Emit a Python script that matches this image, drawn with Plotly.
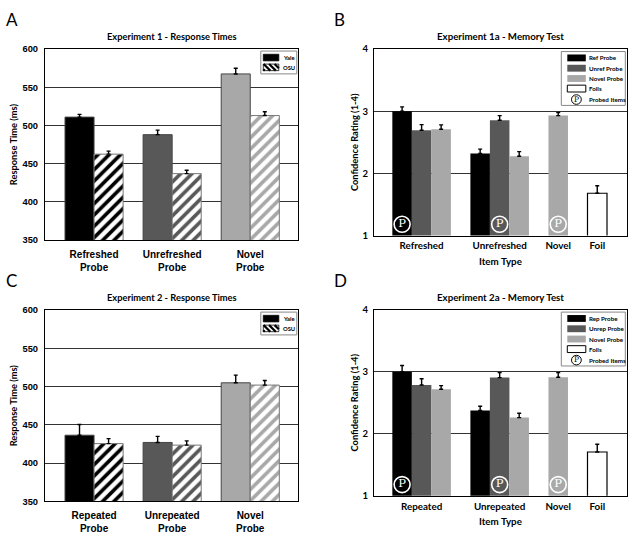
import plotly.graph_objects as go

W, H = 632, 537

# ---------------- data: response times (panels A, C) ----------------
exp1_categories = ["Refreshed<br>Probe", "Unrefreshed<br>Probe", "Novel<br>Probe"]
exp2_categories = ["Repeated<br>Probe", "Unrepeated<br>Probe", "Novel<br>Probe"]
exp1_yale = [511, 488, 567.5]
exp1_yale_err = [3.5, 6, 7.5]
exp1_osu = [462.5, 437, 513]
exp1_osu_err = [4, 4.5, 5]
exp2_yale = [436.5, 427, 505]
exp2_yale_err = [14, 8, 10]
exp2_osu = [425.5, 423.5, 502]
exp2_osu_err = [6.5, 5.5, 6]
rt_ticks = [350, 400, 450, 500, 550, 600]

# ---------------- data: memory tests (panels B, D) ----------------
exp1a_categories = ["Refreshed", "Unrefreshed", "Novel", "Foil"]
exp2a_categories = ["Repeated", "Unrepeated", "Novel", "Foil"]
exp1a_names = ["Ref Probe", "Unref Probe", "Novel Probe", "Foils"]
exp2a_names = ["Rep Probe", "Unrep Probe", "Novel Probe", "Foils"]

exp1a_ref = [3.00, 2.32, None, None]
exp1a_ref_err = [0.07, 0.07, None, None]
exp1a_unref = [2.695, 2.855, None, None]
exp1a_unref_err = [0.09, 0.075, None, None]
exp1a_novel = [2.71, 2.275, 2.93, None]
exp1a_novel_err = [0.07, 0.075, 0.05, None]
exp1a_foil = [None, None, None, 1.68]
exp1a_foil_err = [None, None, None, 0.12]
exp1a_probed = ["Ref Probe", "Unref Probe", "Novel Probe", None]

exp2a_rep = [3.00, 2.374, None, None]
exp2a_rep_err = [0.10, 0.068, None, None]
exp2a_unrep = [2.785, 2.905, None, None]
exp2a_unrep_err = [0.10, 0.08, None, None]
exp2a_novel = [2.716, 2.26, 2.91, None]
exp2a_novel_err = [0.06, 0.07, 0.075, None]
exp2a_foil = [None, None, None, 1.705]
exp2a_foil_err = [None, None, None, 0.125]
exp2a_probed = ["Rep Probe", "Unrep Probe", "Novel Probe", None]
conf_ticks = [1, 2, 3, 4]

# ---------------- styles ----------------
group_colors = ["#000000", "#585858", "#a8a8a8"]
series_colors = ["#000000", "#585858", "#a8a8a8", "#ffffff"]
SANS = "Lato"
ARIAL = "Liberation Sans"
SERIF = "DejaVu Serif"

def fx(p):
    return p / W

def fy(p):
    return 1 - p / H

fig = go.Figure()
shapes = []
annotations = []

# panel geometry in pixels: (left, right, top, bottom)
panels = {
    "A": (45, 298.3, 44, 239),
    "C": (45, 298.3, 310.5, 505.7),
    "B": (374, 627.3, 44, 234.3),
    "D": (374, 627.3, 310, 500),
}
axis_ids = {"A": ("x", "y"), "B": ("x2", "y2"), "C": ("x3", "y3"), "D": ("x4", "y4")}

BW = 0.372  # bar width (category units) for response-time panels


def rt_panel(key, cats, yale, yale_err, osu, osu_err, title):
    xa, ya = axis_ids[key]
    fig.add_trace(go.Bar(
        x=cats, y=yale, name="Yale", xaxis=xa, yaxis=ya,
        offset=-BW, width=BW,
        marker=dict(color=group_colors, line=dict(color="#444", width=1)),
        error_y=dict(type="data", array=yale_err, arrayminus=[0] * len(yale),
                     symmetric=False, color="black", thickness=1.4, width=2),
        showlegend=False,
    ))
    fig.add_trace(go.Bar(
        x=cats, y=osu, name="OSU", xaxis=xa, yaxis=ya,
        offset=0, width=BW,
        marker=dict(color="white", line=dict(color="#777", width=1),
                    pattern=dict(shape="/", fgcolor=group_colors, bgcolor="white",
                                 size=8, solidity=0.45, fgopacity=1)),
        error_y=dict(type="data", array=osu_err, arrayminus=[0] * len(osu),
                     symmetric=False, color="black", thickness=1.4, width=2),
        showlegend=False,
    ))
    L, R, T, B = panels[key]
    annotations.append(dict(text="<b>" + title + "</b>", x=fx((L + R) / 2), y=fy(T - 13),
                            xref="paper", yref="paper", showarrow=False,
                            font=dict(family=SANS, size=9.3, color="black"),
                            xanchor="center", yanchor="middle"))
    # legend box
    shapes.append(dict(type="rect", xref="paper", yref="paper",
                       x0=fx(R - 37.5), x1=fx(R - 1.5), y0=fy(T + 2), y1=fy(T + 25.3),
                       line=dict(color="#888", width=1), fillcolor="white", layer="above"))
    shapes.append(dict(type="rect", xref="paper", yref="paper",
                       x0=fx(R - 35), x1=fx(R - 19.5), y0=fy(T + 5.3), y1=fy(T + 12),
                       line=dict(color="black", width=0.8), fillcolor="black", layer="above"))
    px0, px1, py0, py1 = R - 35, R - 19.5, T + 15.3, T + 22
    shapes.append(dict(type="rect", xref="paper", yref="paper",
                       x0=fx(px0), x1=fx(px1), y0=fy(py0), y1=fy(py1),
                       line=dict(color="black", width=0.8), fillcolor="white", layer="above"))
    w, h = px1 - px0, py1 - py0
    c = 1.5
    while c < w + h:
        u0 = max(0, c - h)
        u1 = min(c, w)
        shapes.append(dict(type="line", xref="paper", yref="paper",
                           x0=fx(px0 + u0), y0=fy(py1 - (c - u0)),
                           x1=fx(px0 + u1), y1=fy(py1 - (c - u1)),
                           line=dict(color="black", width=2.2), layer="above"))
        c += 5.5
    for txt, yc in (("Yale", T + 8.7), ("OSU", T + 18.7)):
        annotations.append(dict(text="<b>" + txt + "</b>", x=fx(R - 17.5), y=fy(yc),
                                xref="paper", yref="paper", showarrow=False,
                                font=dict(family=SANS, size=5.8, color="black"),
                                xanchor="left", yanchor="middle"))


def layout_positions(series_vals):
    ngroups = len(series_vals[0])
    pos = {}
    centers = []
    cursor = 0
    for g in range(ngroups):
        xs = []
        for s in range(len(series_vals)):
            if series_vals[s][g] is not None:
                pos[(s, g)] = cursor
                xs.append(cursor)
                cursor += 1
        centers.append(sum(xs) / len(xs))
        cursor += 1
    return pos, centers


def mem_panel(key, cats, names, vals, errs, probed, title):
    xa, ya = axis_ids[key]
    pos, centers = layout_positions(vals)
    for s, (nm, v, e) in enumerate(zip(names, vals, errs)):
        xs = [pos[(s, g)] for g in range(len(cats)) if v[g] is not None]
        ys = [v[g] for g in range(len(cats)) if v[g] is not None]
        es = [e[g] for g in range(len(cats)) if v[g] is not None]
        fig.add_trace(go.Bar(
            x=xs, y=ys, name=nm, xaxis=xa, yaxis=ya, width=1,
            marker=dict(color=series_colors[s],
                        line=dict(color="black", width=1.2 if s == 3 else 0)),
            error_y=dict(type="data", array=es, arrayminus=[0] * len(es),
                         symmetric=False, color="black", thickness=1.4, width=2),
            showlegend=False,
        ))
    px_ = [pos[(names.index(p), g)] for g, p in enumerate(probed) if p is not None]
    fig.add_trace(go.Scatter(
        x=px_, y=[1.18] * len(px_), xaxis=xa, yaxis=ya, mode="markers+text",
        text=["P"] * len(px_), textposition="middle center",
        textfont=dict(family=SERIF, size=11.5, color="white"),
        marker=dict(symbol="circle-open", size=16, color="white", line=dict(width=1.6)),
        showlegend=False, hoverinfo="skip",
    ))
    L, R, T, B = panels[key]
    annotations.append(dict(text="<b>" + title + "</b>", x=fx((L + R) / 2), y=fy(T - 13),
                            xref="paper", yref="paper", showarrow=False,
                            font=dict(family=SANS, size=9.7, color="black"),
                            xanchor="center", yanchor="middle"))
    annotations.append(dict(text="<b>Item Type</b>", x=fx((L + R) / 2), y=fy(B + 26),
                            xref="paper", yref="paper", showarrow=False,
                            font=dict(family=SANS, size=9.8, color="black"),
                            xanchor="center", yanchor="middle"))
    # legend
    shapes.append(dict(type="rect", xref="paper", yref="paper",
                       x0=fx(R - 66), x1=fx(R - 2), y0=fy(T + 2.5), y1=fy(T + 57.5),
                       line=dict(color="#888", width=1), fillcolor="white", layer="above"))
    rows = [T + 9, T + 19.5, T + 30, T + 40.3]
    for s, (nm, yc) in enumerate(zip(names, rows)):
        shapes.append(dict(type="rect", xref="paper", yref="paper",
                           x0=fx(R - 60), x1=fx(R - 41.5), y0=fy(yc - 3.5), y1=fy(yc + 3.5),
                           line=dict(color="black", width=1 if s == 3 else 0),
                           fillcolor=series_colors[s], layer="above"))
        annotations.append(dict(text="<b>" + nm + "</b>", x=fx(R - 40.5), y=fy(yc),
                                xref="paper", yref="paper", showarrow=False,
                                font=dict(family=SANS, size=6.2, color="black"),
                                xanchor="left", yanchor="middle"))
    yc = T + 51.5
    shapes.append(dict(type="circle", xref="paper", yref="paper",
                       x0=fx(R - 55.8), x1=fx(R - 46), y0=fy(yc - 4.9), y1=fy(yc + 4.9),
                       line=dict(color="black", width=1), fillcolor="white", layer="above"))
    annotations.append(dict(text="P", x=fx(R - 50.9), y=fy(yc - 0.2),
                            xref="paper", yref="paper", showarrow=False,
                            font=dict(family=SERIF, size=7.5, color="black"),
                            xanchor="center", yanchor="middle"))
    annotations.append(dict(text="<b>Probed Items</b>", x=fx(R - 40.5), y=fy(yc),
                            xref="paper", yref="paper", showarrow=False,
                            font=dict(family=SANS, size=6.2, color="black"),
                            xanchor="left", yanchor="middle"))
    return centers


rt_panel("A", exp1_categories, exp1_yale, exp1_yale_err, exp1_osu, exp1_osu_err,
         "Experiment 1 - Response Times")
rt_panel("C", exp2_categories, exp2_yale, exp2_yale_err, exp2_osu, exp2_osu_err,
         "Experiment 2 - Response Times")
centers_b = mem_panel("B", exp1a_categories, exp1a_names,
                      [exp1a_ref, exp1a_unref, exp1a_novel, exp1a_foil],
                      [exp1a_ref_err, exp1a_unref_err, exp1a_novel_err, exp1a_foil_err],
                      exp1a_probed, "Experiment 1a - Memory Test")
centers_d = mem_panel("D", exp2a_categories, exp2a_names,
                      [exp2a_rep, exp2a_unrep, exp2a_novel, exp2a_foil],
                      [exp2a_rep_err, exp2a_unrep_err, exp2a_novel_err, exp2a_foil_err],
                      exp2a_probed, "Experiment 2a - Memory Test")

# panel letters
for key, (x, y) in {"A": (4, 14), "B": (332, 14), "C": (4, 280), "D": (332, 280)}.items():
    annotations.append(dict(text=key, x=fx(x), y=fy(y), xref="paper", yref="paper",
                            showarrow=False, font=dict(family=SANS, size=17, color="black"),
                            xanchor="left", yanchor="middle"))

frame = dict(showline=True, mirror=True, linecolor="black", linewidth=1.2, ticks="")


def rt_xaxis(key):
    L, R, T, B = panels[key]
    return dict(domain=[fx(L), fx(R)], type="category", range=[-0.628, 2.615],
                showgrid=False, tickfont=dict(family=ARIAL, size=10, color="black", weight="bold"),
                ticklabelstandoff=5, anchor=axis_ids[key][1], **frame)


def rt_yaxis(key):
    L, R, T, B = panels[key]
    return dict(domain=[fy(B), fy(T)], range=[350, 600], tickvals=rt_ticks,
                showgrid=True, gridcolor="#333", gridwidth=1,
                tickfont=dict(family=ARIAL, size=9.3, color="black", weight="bold"),
                ticklabelstandoff=4,
                title=dict(text="<b>Response Time (ms)</b>", standoff=3,
                           font=dict(family=SANS, size=9.3, color="black")),
                anchor=axis_ids[key][0], **frame)


def mem_xaxis(key, centers, cats):
    L, R, T, B = panels[key]
    return dict(domain=[fx(L), fx(R)], range=[-1.44, 11.54], tickvals=centers, ticktext=cats,
                showgrid=False, zeroline=False,
                tickfont=dict(family=SANS, size=9.8, color="black", weight="bold"),
                ticklabelstandoff=1, anchor=axis_ids[key][1], **frame)


def mem_yaxis(key):
    L, R, T, B = panels[key]
    return dict(domain=[fy(B), fy(T)], range=[1, 4], tickvals=conf_ticks,
                showgrid=True, gridcolor="#333", gridwidth=1, zeroline=False,
                tickfont=dict(family=SANS, size=9.5, color="black", weight="bold"),
                ticklabelstandoff=3,
                title=dict(text="<b>Confidence Rating (1-4)</b>", standoff=2,
                           font=dict(family=SANS, size=9.3, color="black")),
                anchor=axis_ids[key][0], **frame)


fig.update_layout(
    width=W, height=H, margin=dict(l=0, r=0, t=0, b=0),
    paper_bgcolor="white", plot_bgcolor="white",
    barmode="overlay", showlegend=False,
    xaxis=rt_xaxis("A"), yaxis=rt_yaxis("A"),
    xaxis3=rt_xaxis("C"), yaxis3=rt_yaxis("C"),
    xaxis2=mem_xaxis("B", centers_b, exp1a_categories), yaxis2=mem_yaxis("B"),
    xaxis4=mem_xaxis("D", centers_d, exp2a_categories), yaxis4=mem_yaxis("D"),
    shapes=shapes, annotations=annotations,
)

# remove the browser's default page margin so the figure sits at the window's corner
fig.write_html("out.html", config={"displayModeBar": False},
               post_script="document.body.style.margin='0';document.body.style.overflow='hidden';")
